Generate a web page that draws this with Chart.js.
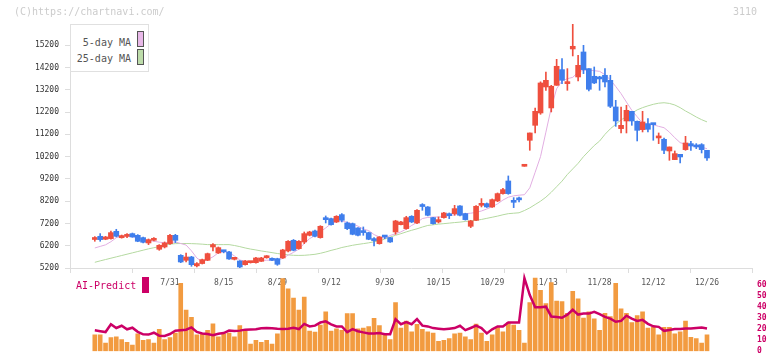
<!DOCTYPE html>
<html>
<head>
<meta charset="utf-8">
<script src="https://cdn.jsdelivr.net/npm/chart.js@4.4.1/dist/chart.umd.min.js"></script>
<style>
  body { margin: 0; background: #fff; }
  #wrap { position: relative; width: 772px; height: 361px; overflow: hidden; font-family: "DejaVu Sans Mono", monospace; }
  canvas { position: absolute; left: 0; top: 0; }
  .note { position: absolute; font-size: 10px; line-height: 10px; color: #ccc; white-space: nowrap; }
  #legend { position: absolute; left: 70px; top: 24px; width: 77px; height: 46px; border: 1px solid #e0e0e0; background: #fff; }
  #legend .txt { position: absolute; right: 17px; font-size: 10px; line-height: 10px; color: #555; white-space: nowrap; }
  #legend .sw { position: absolute; left: 66px; width: 5px; height: 14px; border: 1px solid #555; }
  #aiLabel { position: absolute; left: 76px; top: 281px; font-size: 10px; line-height: 10px; color: #cc0066; }
  #aiSwatch { position: absolute; left: 142px; top: 277px; width: 7px; height: 16px; background: #cc0066; }
</style>
</head>
<body>
<div id="wrap">
  <canvas id="price" width="772" height="361"></canvas>
  <canvas id="ai" width="772" height="361"></canvas>
  <div class="note" style="left:14px; top:7px;">(C)https://chartnavi.com/</div>
  <div class="note" style="left:733px; top:7px;">3110</div>
  <div id="legend">
    <span class="txt" style="top:13px;">5-day MA</span>
    <span class="sw" style="top:6px; background:#e8b8e8;"></span>
    <span class="txt" style="top:29px;">25-day MA</span>
    <span class="sw" style="top:24px; background:#bddcaa;"></span>
  </div>
  <div id="aiLabel">AI-Predict</div>
  <div id="aiSwatch"></div>
</div>
<script>
// daily candles, one entry per trading day (7/10 .. 12/26)
const opens = [6480, 6624, 6490, 6519, 6848, 6560, 6620, 6744, 6668, 6564,
  6324, 6444, 6040, 6144, 6294, 6668, 5770, 5546, 5694, 5296,
  5400, 5546, 6144, 5875, 5960, 5920, 5590, 5516, 5350, 5440,
  5440, 5500, 5660, 5620, 5620, 5650, 5965, 6444, 6070, 6369,
  6668, 6863, 6564, 7400, 7417, 7267, 7596, 7222, 7192, 6998,
  6830, 6788, 6460, 6294, 6640, 6564, 6818, 7147, 6968, 7522,
  7222, 7990, 7941, 7462, 7267, 7462, 7580, 7641, 7986, 7641,
  7073, 7342, 8015, 8090, 7941, 8210, 8540, 9108, 8180, 8290,
  9767, 10934, 11607, 12161, 13329, 12386, 13403, 14107, 13478, 15035,
  13778, 14900, 14152, 13808, 13730, 13853, 13628, 12431, 11458, 11802,
  12236, 11787, 11413, 11682, 11652, 11040, 10979, 10455, 10066, 10305,
  10515, 10784, 10710, 10740, 10485];
const highs = [6610, 6744, 6620, 6860, 6938, 6680, 6744, 6770, 6700, 6590,
  6504, 6564, 6250, 6370, 6713, 6713, 5800, 5875, 5724, 5440,
  5600, 5870, 6294, 6144, 5995, 5945, 5660, 5530, 5540, 5500,
  5680, 5680, 5760, 5660, 5640, 6040, 6430, 6480, 6430, 6818,
  6850, 6900, 7100, 7537, 7440, 7550, 7641, 7267, 7220, 7020,
  7043, 6810, 6564, 6610, 6668, 6580, 7342, 7300, 7522, 7550,
  7820, 8090, 7960, 7480, 7492, 7700, 7671, 8015, 8000, 7660,
  7342, 8000, 8315, 8120, 8300, 8570, 8780, 9333, 8360, 8390,
  9767, 11263, 12386, 13560, 14002, 13403, 14571, 14601, 14152, 16142,
  14750, 15199, 14152, 14227, 13808, 14152, 13853, 12730, 12431, 12505,
  12236, 11802, 12236, 11907, 11682, 11263, 11039, 10635, 10455, 10305,
  11113, 10889, 10784, 10784, 10485];
const lows = [6400, 6399, 6470, 6500, 6594, 6540, 6564, 6580, 6380, 6330,
  6249, 6420, 5995, 6100, 6264, 6340, 5440, 5469, 5276, 5247,
  5380, 5530, 5965, 5850, 5880, 5590, 5560, 5215, 5330, 5420,
  5420, 5490, 5640, 5530, 5320, 5630, 5920, 5970, 6040, 6294,
  6640, 6600, 6540, 7222, 7120, 7240, 7267, 6923, 6690, 6640,
  6668, 6470, 6190, 6270, 6519, 6350, 6713, 7130, 6940, 7240,
  7190, 7791, 7540, 7170, 7222, 7440, 7417, 7567, 7540, 7350,
  7013, 7320, 7941, 7920, 7920, 8180, 8510, 8510, 7911, 8165,
  9767, 10485, 11263, 12101, 13179, 12206, 13403, 13478, 13179, 14721,
  13598, 13927, 13149, 13478, 13179, 13329, 12401, 11562, 11263, 11263,
  11607, 10904, 11308, 11308, 10934, 10784, 10335, 10036, 10066, 9916,
  10485, 10485, 10560, 10365, 10036];
const closes = [6540, 6474, 6594, 6788, 6624, 6654, 6660, 6594, 6399, 6354,
  6474, 6500, 6220, 6324, 6668, 6444, 5470, 5694, 5350, 5400,
  5576, 5845, 6249, 6114, 5930, 5606, 5620, 5247, 5516, 5470,
  5650, 5650, 5700, 5546, 5366, 6010, 6399, 5995, 6399, 6744,
  6818, 6624, 7073, 7370, 7147, 7522, 7342, 6968, 6713, 6668,
  6790, 6489, 6430, 6594, 6590, 6369, 7312, 7267, 7462, 7267,
  7791, 7960, 7567, 7192, 7372, 7671, 7550, 7866, 7567, 7372,
  7312, 7971, 8090, 7941, 8270, 8540, 8720, 8540, 8150, 8260,
  9767, 11263, 12236, 13508, 13628, 13359, 14257, 13628, 13530, 15155,
  14301, 14107, 13224, 13508, 13690, 13553, 12461, 11802, 11607, 12281,
  11802, 11383, 11757, 11428, 11637, 11070, 10485, 10635, 10335, 10186,
  10814, 10680, 10635, 10515, 10141];
const ma5 = [6100, 6170, 6240, 6380, 6560, 6640, 6630, 6600, 6560, 6480,
  6440, 6400, 6360, 6330, 6350, 6370, 6300, 6230, 5970, 5650,
  5480, 5580, 5700, 5880, 5930, 5900, 5740, 5560, 5500, 5470,
  5500, 5540, 5550, 5550, 5560, 5630, 5780, 5900, 6050, 6300,
  6520, 6650, 6820, 7000, 7190, 7280, 7310, 7250, 7180, 7080,
  6950, 6880, 6700, 6590, 6530, 6660, 6740, 6820, 6950, 7110,
  7250, 7420, 7470, 7490, 7490, 7500, 7560, 7590, 7620, 7640,
  7660, 7700, 7760, 7850, 7950, 8080, 8250, 8380, 8440, 8470,
  8490, 8800, 9500, 10200, 11300, 12400, 13250, 13600, 13700, 13760,
  14000, 14080, 14080, 14060, 14030, 13880, 13650, 13350, 13030, 12650,
  12280, 11990, 11700, 11650, 11630, 11560, 11500, 11300, 11050, 10830,
  10750, 10700, 10660, 10620, 10560];
const ma25 = [5456, 5520, 5580, 5640, 5700, 5760, 5820, 5880, 5940, 6000,
  6060, 6110, 6160, 6220, 6270, 6294, 6300, 6300, 6294, 6285,
  6270, 6250, 6250, 6250, 6250, 6250, 6210, 6160, 6100, 6050,
  6010, 5965, 5930, 5890, 5850, 5820, 5790, 5770, 5765, 5770,
  5790, 5815, 5860, 5920, 5990, 6050, 6120, 6170, 6220, 6260,
  6294, 6330, 6380, 6414, 6500, 6590, 6669, 6740, 6820, 6893,
  6960, 7040, 7110, 7140, 7170, 7192, 7215, 7240, 7260, 7290,
  7320, 7340, 7380, 7430, 7480, 7530, 7590, 7640, 7660, 7680,
  7780, 7900, 8050, 8200, 8380, 8600, 8850, 9100, 9400, 9650,
  9900, 10200, 10450, 10700, 10900, 11200, 11450, 11650, 11850, 12000,
  12150, 12300, 12400, 12480, 12550, 12600, 12620, 12590, 12520, 12400,
  12250, 12120, 11980, 11860, 11760];
const volume = [14.75, 14.75, 7.25, 12.25, 13.1, 10.6, 8.1, 5.6, 15.6, 9.75,
  10.6, 7.25, 19.75, 10.6, 12.25, 16.4, 61.4, 37.25, 30.6, 14.75,
  15.6, 18.9, 24.75, 13.1, 15.6, 16.4, 13.1, 23.1, 18.1, 6.4,
  9.75, 8.1, 9.75, 6.4, 15.6, 65.6, 56.4, 48.1, 37.25, 48.9,
  18.1, 17.25, 23.6, 35.6, 18.1, 20.3, 18.9, 33.9, 33.9, 20.3,
  20.9, 22.25, 29.75, 23.1, 15.6, 10.6, 43.9, 20.9, 27.25, 17.5,
  24.4, 19.75, 17.5, 16.4, 8.9, 9.75, 11.4, 15.6, 16.4, 13.1,
  10.6, 24.5, 16.4, 8.9, 14.75, 21.4, 17.5, 25.8, 23.6, 18.9,
  7.25, 43.9, 66.1, 55, 43.1, 62, 45.3, 44.75, 34.2, 54.2,
  47.25, 30, 35.6, 29.2, 18.9, 34.2, 31.4, 61.4, 38.3, 34.2,
  25.8, 32.25, 35.6, 20.9, 21.6, 14.75, 21.6, 21.6, 15.6, 17.5,
  27.25, 12.5, 11.4, 7.25, 14.75];
const aiPredict = [18.9, 18.1, 17.3, 24.4, 21, 23, 19.8, 21.2, 17.5, 15.2,
  15, 16.7, 14, 13.8, 15.5, 18.5, 19, 19.4, 21.5, 17.5,
  16, 15.5, 14.5, 15.8, 16.4, 18.6, 18.3, 18.6, 19.5, 19.7,
  19.8, 20.8, 20.9, 20.8, 20.3, 20, 20.4, 21.1, 20, 24.7,
  22.4, 23.1, 25.9, 27, 24.2, 22.4, 22.4, 17.25, 20, 18.1,
  17, 16.1, 16.1, 16.5, 15.4, 15.4, 29, 24.4, 26.4, 24.4,
  29, 23.1, 22.4, 20.9, 20.3, 19.75, 20.3, 20.9, 23, 19,
  21, 23.1, 20.9, 16.1, 19.75, 22.4, 22.4, 25.9, 25.9, 25.9,
  66.1, 50.8, 39.75, 39.75, 40.25, 31.4, 31, 30.2, 33, 37.5,
  33.1, 34, 34, 35.6, 33.5, 31, 29.4, 26.6, 27.4, 32.1,
  29.4, 27.4, 28.3, 24.75, 22.5, 22, 18.4, 19.2, 20, 20,
  20.5, 20.5, 21, 21.4, 20.5];
const dateTicks = [14, 24, 34, 44, 54, 64, 74, 84, 94, 104, 114];
const dateLabels = ['7/31', '8/15', '8/29', '9/12', '9/30', '10/15', '10/29', '11/13', '11/28', '12/12', '12/26'];
const priceTicks = [5200, 6200, 7200, 8200, 9200, 10200, 11200, 12200, 13200, 14200, 15200];
const aiTicks = [0, 10, 20, 30, 40, 50, 60];

// shared x range (index units), so both panels line up
const xMin = -4.62, xMax = 122.38;
const gridSteps = [];
for (let k = 0; k <= 11; k++) gridSteps.push({ value: xMin + k * (xMax - xMin) / 11 });

const RED = '#ef4f3e', BLUE = '#3f7eec';
const candleColors = opens.map((o, i) => closes[i] >= o ? RED : BLUE);
const font8 = { family: 'DejaVu Sans Mono', size: 8 };

new Chart(document.getElementById('price'), {
  type: 'bar',
  data: {
    datasets: [
      {
        type: 'line', label: '5-day MA', data: ma5.map((v, i) => ({ x: i, y: v })),
        borderColor: '#e2aee2', borderWidth: 1, pointRadius: 0, order: 3
      },
      {
        type: 'line', label: '25-day MA', data: ma25.map((v, i) => ({ x: i, y: v })),
        borderColor: '#b4d9a0', borderWidth: 1, pointRadius: 0, order: 3
      },
      {
        label: 'wick', data: lows.map((l, i) => ({ x: i, y: [l, highs[i]] })),
        backgroundColor: candleColors, barThickness: 1, grouped: false, order: 2
      },
      {
        label: 'body', data: opens.map((o, i) => ({ x: i, y: [o, closes[i]] })),
        backgroundColor: candleColors, barThickness: 5, minBarLength: 2, grouped: false, order: 1
      }
    ]
  },
  options: {
    responsive: false, animation: false, events: [],
    layout: { padding: { top: 24, right: 20, bottom: 0, left: 0 } },
    plugins: { legend: { display: false }, tooltip: { enabled: false } },
    scales: {
      x: {
        type: 'linear', min: xMin, max: xMax, offset: false, weight: 0,
        grid: { offset: false, drawOnChartArea: false, color: '#dddddd', tickLength: 5 },
        border: { color: '#dddddd' },
        ticks: { display: false },
        afterBuildTicks: s => { s.ticks = gridSteps.map(t => ({ value: t.value })); },
        afterFit: s => { s.height = 5; }
      },
      xl: {
        type: 'linear', position: 'bottom', min: xMin, max: xMax, offset: false, weight: 1,
        grid: { display: false, drawTicks: false, offset: false },
        border: { display: false },
        ticks: {
          autoSkip: false, maxRotation: 0, padding: 5, color: '#555', font: font8,
          callback: v => { const k = dateTicks.indexOf(v); return k >= 0 ? dateLabels[k] : ''; }
        },
        afterBuildTicks: s => { s.ticks = dateTicks.map(v => ({ value: v })); },
        afterFit: s => { s.height = 88; }
      },
      y: {
        min: 5200, max: 16156, beginAtZero: false,
        grid: { drawOnChartArea: false, color: '#dddddd', tickLength: 5 },
        border: { color: '#dddddd' },
        ticks: { padding: 6, color: '#333', font: font8, callback: v => String(v) },
        afterBuildTicks: s => { s.ticks = priceTicks.map(v => ({ value: v })); },
        afterFit: s => { s.width = 70; }
      }
    }
  }
});

new Chart(document.getElementById('ai'), {
  type: 'bar',
  data: {
    datasets: [
      {
        type: 'line', label: 'AI-Predict', data: aiPredict.map((v, i) => ({ x: i, y: v })),
        borderColor: '#cc0066', borderWidth: 2.5, pointRadius: 0, order: 1
      },
      {
        label: 'volume', data: volume.map((v, i) => ({ x: i, y: v })),
        backgroundColor: '#f29b40', barThickness: 4, order: 2
      }
    ]
  },
  options: {
    responsive: false, animation: false, events: [],
    layout: { padding: { top: 271, right: 0, bottom: 3, left: 70 } },
    plugins: { legend: { display: false }, tooltip: { enabled: false } },
    scales: {
      x: { type: 'linear', min: xMin, max: xMax, offset: false, display: false, grid: { offset: false } },
      y: {
        position: 'right', min: 0, max: 72.5, beginAtZero: true,
        grid: { display: false, drawTicks: false },
        border: { display: false },
        ticks: { padding: 5, color: '#cc0066', font: { family: 'DejaVu Sans Mono', size: 8, weight: 'bold' }, callback: v => String(v) },
        afterBuildTicks: s => { s.ticks = aiTicks.map(v => ({ value: v })); },
        afterFit: s => { s.width = 20; }
      }
    }
  }
});
</script>
</body>
</html>
